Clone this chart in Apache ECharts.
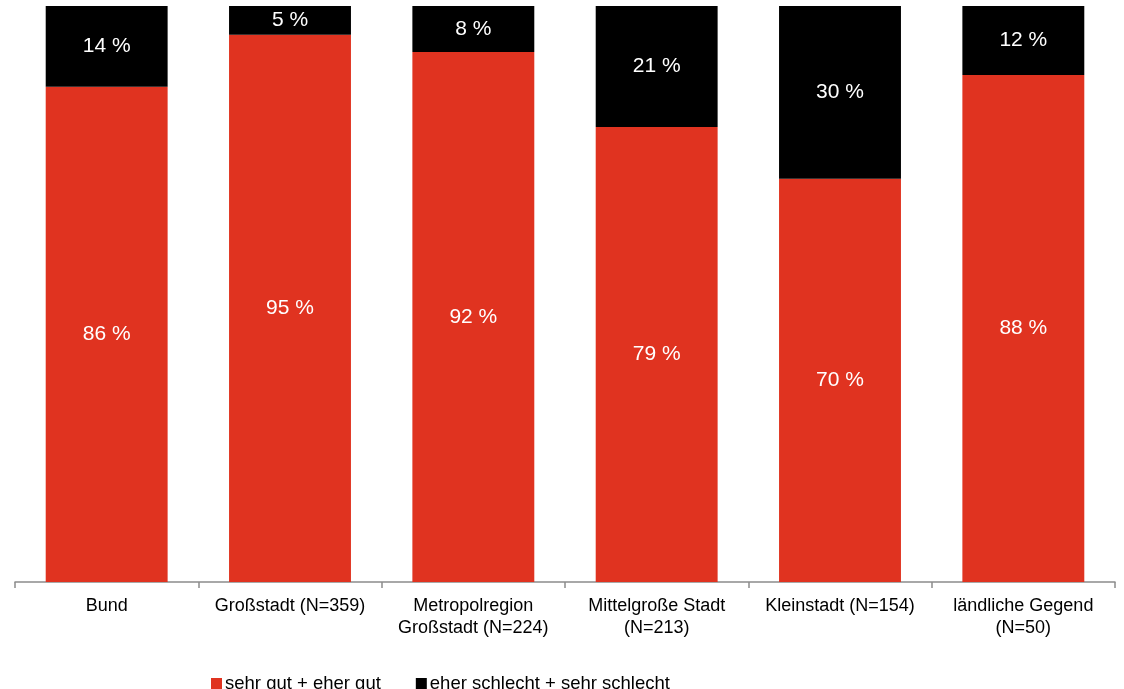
<!DOCTYPE html>
<html>
<head>
<meta charset="utf-8">
<script src="https://cdn.jsdelivr.net/npm/echarts@6/dist/echarts.min.js"></script>
<style>
  html, body {margin: 0; padding: 0; background: #fff;}
  #chart {width: 1124px; height: 689px;}
</style>
</head>
<body>
<div id="chart"></div>
<script>
const categories = [
  'Bund',
  'Großstadt (N=359)',
  'Metropolregion\nGroßstadt (N=224)',
  'Mittelgroße Stadt\n(N=213)',
  'Kleinstadt (N=154)',
  'ländliche Gegend\n(N=50)'
];
const gut = [86, 95, 92, 79, 70, 88];
const schlecht = [14, 5, 8, 21, 30, 12];
const seriesNames = ['sehr gut + eher gut', 'eher schlecht + sehr schlecht'];

const chart = echarts.init(document.getElementById('chart'));
const labelStyle = {
  show: true,
  position: 'inside',
  color: '#fff',
  fontSize: 21,
  fontFamily: 'Liberation Sans, Arial, sans-serif',
  formatter: p => p.value + ' %'
};
chart.setOption({
  animation: false,
  textStyle: {fontFamily: 'Liberation Sans, Arial, sans-serif'},
  grid: {left: 15, right: 9, top: 6, bottom: 107, containLabel: false},
  legend: {
    left: 206,
    top: 669,
    itemWidth: 11,
    itemHeight: 11,
    itemGap: 35,
    icon: 'rect',
    textStyle: {color: '#000', fontSize: 18.5, padding: [0, 0, 0, -2]},
    data: seriesNames
  },
  xAxis: {
    type: 'category',
    data: categories,
    axisLine: {lineStyle: {color: '#8c8c8c', width: 1.5}},
    axisTick: {show: true, length: 6, lineStyle: {color: '#8c8c8c', width: 1.5}},
    axisLabel: {color: '#000', fontSize: 18, lineHeight: 22, margin: 13, interval: 0}
  },
  yAxis: {type: 'value', min: 0, max: 100, show: false},
  series: [
    {
      name: seriesNames[0],
      type: 'bar',
      stack: 'total',
      barWidth: '66.5%',
      itemStyle: {color: '#e03320', borderWidth: 0},
      label: labelStyle,
      data: gut
    },
    {
      name: seriesNames[1],
      type: 'bar',
      stack: 'total',
      barWidth: '66.5%',
      itemStyle: {color: '#000000', borderWidth: 0},
      label: labelStyle,
      data: schlecht
    }
  ]
});
</script>
</body>
</html>
